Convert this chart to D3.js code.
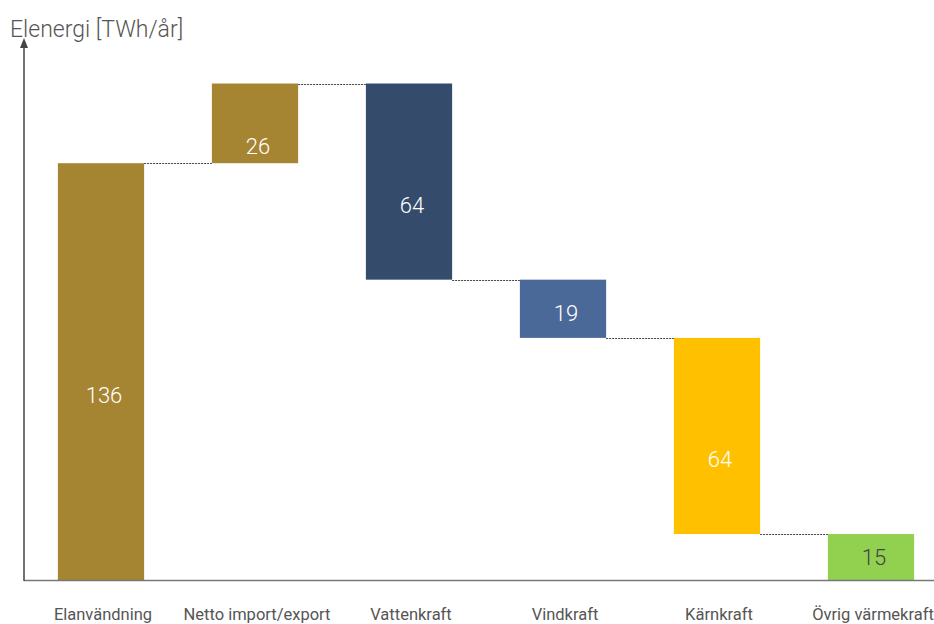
<!DOCTYPE html>
<html>
<head>
<meta charset="utf-8">
<script src="https://cdn.jsdelivr.net/npm/d3@7"></script>
<style>
  body { margin: 0; background: #fff; }
  text { font-family: Roboto, "Noto Sans", sans-serif; }
</style>
</head>
<body>
<div id="chart"></div>
<script>
// waterfall: first is total, the rest are changes
const categories = ["Elanvändning", "Netto import/export", "Vattenkraft", "Vindkraft", "Kärnkraft", "Övrig värmekraft"];
const changes = [136, 26, -64, -19, -64, -15];
const colors = ["#A68532", "#A68532", "#354B6B", "#4A6998", "#FFC000", "#92D050"];
const labelColors = ["#fff", "#fff", "#fff", "#fff", "#fff", "#444"];
const yTitle = "Elenergi [TWh/år]";

const width = 934;
const height = 624;

// running totals -> start/end of each bar
let total = 0;
const bars = changes.map((c, i) => {
  const start = total;
  total += c;
  return { name: categories[i], start: start, end: total, value: Math.abs(c), color: colors[i], lc: labelColors[i] };
});

const x = d3.scaleBand()
  .domain(categories)
  .range([24, 948])
  .paddingInner(0.44)
  .paddingOuter(0.22);

const y = d3.scaleLinear()
  .domain([0, 170])
  .range([580, 59]);

const svg = d3.select("#chart")
  .append("svg")
  .attr("width", width)
  .attr("height", height);

svg.selectAll("rect.bar")
  .data(bars)
  .enter()
  .append("rect")
  .attr("class", "bar")
  .attr("x", d => x(d.name))
  .attr("y", d => y(Math.max(d.start, d.end)))
  .attr("width", x.bandwidth())
  .attr("height", d => Math.abs(y(d.start) - y(d.end)))
  .style("fill", d => d.color);

// dashed connectors between bars
svg.selectAll("line.conn")
  .data(bars.slice(0, -1))
  .enter()
  .append("line")
  .attr("class", "conn")
  .attr("x1", d => x(d.name) + x.bandwidth())
  .attr("x2", (d, i) => x(categories[i + 1]))
  .attr("y1", d => Math.round(y(d.end)) + 0.5)
  .attr("y2", d => Math.round(y(d.end)) + 0.5)
  .style("stroke", "#444")
  .style("stroke-width", 1)
  .style("stroke-dasharray", "2,1");

// value labels, a bit below the middle (less so for short bars)
svg.selectAll("text.val")
  .data(bars)
  .enter()
  .append("text")
  .attr("class", "val")
  .attr("x", d => x(d.name) + x.bandwidth() / 2 + 3)
  .attr("y", d => {
    const mid = (y(d.start) + y(d.end)) / 2;
    const h = Math.abs(y(d.start) - y(d.end));
    return mid + Math.max(0, Math.min(23, h - 54));
  })
  .attr("dy", "0.36em")
  .attr("text-anchor", "middle")
  .style("font-size", "22px")
  .style("font-weight", 300)
  .style("fill", d => d.lc)
  .text(d => d.value);

// baseline
svg.append("line")
  .attr("x1", 24).attr("x2", width)
  .attr("y1", y(0) + 0.5).attr("y2", y(0) + 0.5)
  .style("stroke", "#777")
  .style("stroke-width", 1.5);

// y axis with arrow
svg.append("line")
  .attr("x1", 24).attr("x2", 24)
  .attr("y1", y(0) + 1).attr("y2", 46)
  .style("stroke", "#444")
  .style("stroke-width", 1.5);
svg.append("path")
  .attr("d", "M24,38 L20,48 L28,48 Z")
  .style("fill", "#444");

svg.append("text")
  .attr("x", 10)
  .attr("y", 37)
  .style("font-size", "23px")
  .style("font-weight", 300)
  .style("fill", "#555")
  .text(yTitle);

// category labels
svg.selectAll("text.cat")
  .data(categories)
  .enter()
  .append("text")
  .attr("class", "cat")
  .attr("x", d => x(d) + x.bandwidth() / 2 + 2)
  .attr("y", 620)
  .attr("text-anchor", "middle")
  .style("font-size", "16.5px")
  .style("fill", "#555")
  .text(d => d);
</script>
</body>
</html>
